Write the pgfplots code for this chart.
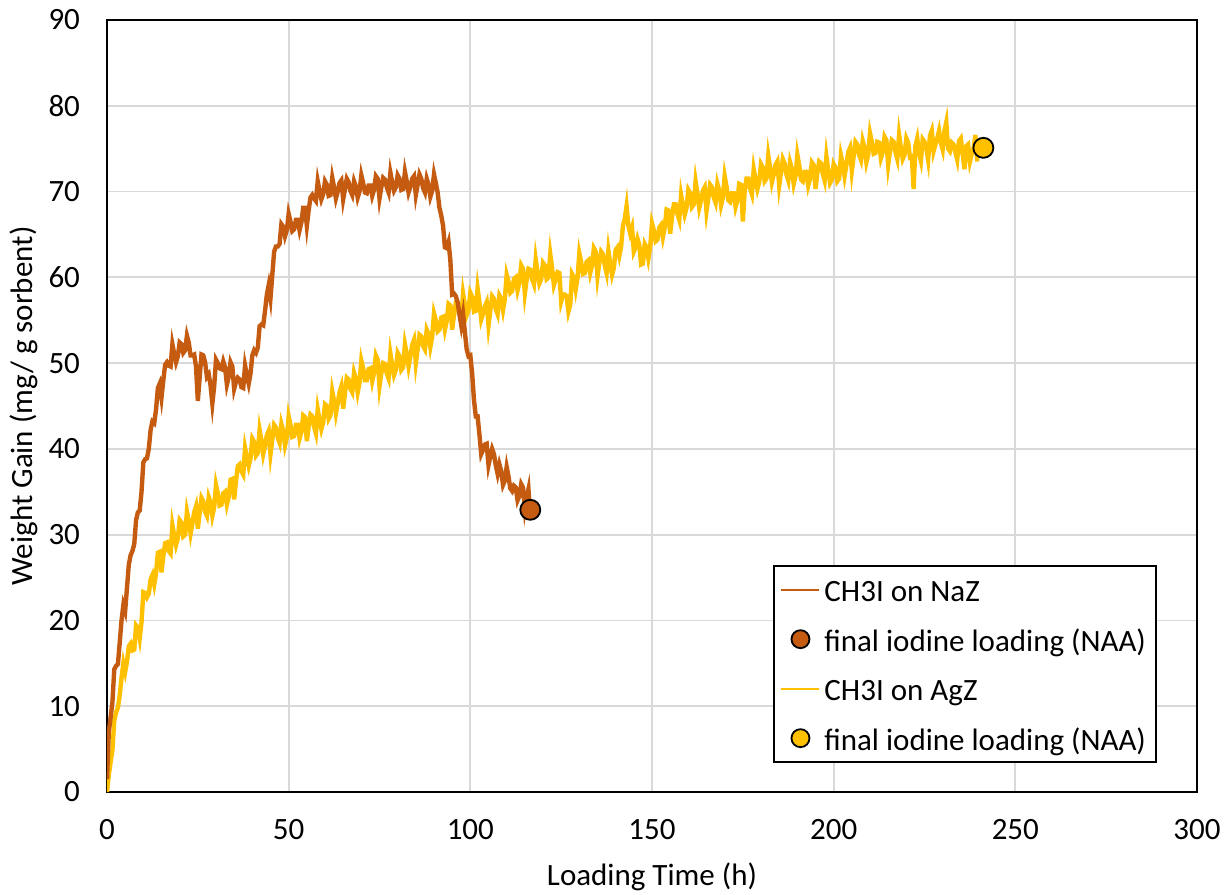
\documentclass[border=0pt]{standalone}
\usepackage{fontspec}
\setmainfont{Carlito}
\usepackage{pgfplots}
\pgfplotsset{compat=1.18}
\definecolor{naz}{HTML}{C55A11}
\definecolor{agz}{HTML}{FFC000}
\definecolor{gridc}{HTML}{D9D9D9}
\pgfplotsset{
  lineleg/.style={legend image code/.code={\draw[##1, line width=1pt] (0pt,0pt) -- (19pt,0pt);}},
  markleg/.style={legend image code/.code={\draw[##1, mark size=4.5pt] plot coordinates {(9.5pt,0pt)};}},
}
\begin{document}
\begin{tikzpicture}
\useasboundingbox (-53.5pt,-51pt) rectangle (559pt,396pt);
\begin{axis}[
  scale only axis, width=545pt, height=386pt,
  xmin=0, xmax=300, ymin=0, ymax=90,
  xtick={0,50,...,300}, ytick={0,10,...,90},
  grid=major, grid style={gridc, line width=0.9pt},
  axis line style={black, line width=1pt},
  major tick length=0pt,
  tick label style={font=\fontsize{15.5}{18}\selectfont},
  /pgf/number format/assume math mode=true,
  yticklabel style={xshift=-10pt},
  xticklabel style={yshift=-10pt},
  xlabel={Loading Time (h)},
  ylabel={Weight Gain (mg/ g sorbent)},
  label style={font=\fontsize{15.5}{18}\selectfont},
  xlabel style={at={([yshift=-46.5pt]axis description cs:0.5,0)}, anchor=base},
  ylabel style={at={([xshift=-37pt]axis description cs:0,0.5)}, anchor=base},
  legend cell align=left,
  legend style={at={(axis description cs:0.9633,0.0376)}, anchor=south east,
    draw=black, line width=1pt, fill=white,
    font=\fontsize{15.5}{18}\selectfont, row sep=5.75pt,
    nodes={text height=13.5pt, text depth=1.5pt, inner sep=2pt},
    inner xsep=3pt, inner ysep=2.4pt},
]
\addplot[agz, line width=2.2pt, forget plot] coordinates {
(0,0)(0.5,2)(1,3.5)(1.5,4.9)(2,8.3)(2.5,9.3)(3,9.8)(3.5,11.3)(4,13.3)(4.5,15.0)(5,14.0)(5.5,15.2)(6,17.0)(6.5,17.3)(7,16.5)(7.5,16.6)(8,19.4)(8.5,19.1)(9,17.9)(9.5,19.8)
(10,23.3)(10.5,23.2)(11,22.7)(11.5,23.1)(12,24.8)(12.5,25.3)(13,24.2)(13.5,25.5)(14,27.9)(14.5,28.0)(15,25.6)(15.5,27.5)(16,29.0)(16.5,29.1)(17,28.1)(17.5,27.8)(18,31.1)(18.5,29.9)(19,28.8)(19.5,29.6)
(20,31.7)(20.5,31.4)(21,29.8)(21.5,30.0)(22,32.7)(22.5,31.6)(23,30.1)(23.5,31.3)(24,32.6)(24.5,33.3)(25,30.7)(25.5,32.5)(26,34.3)(26.5,33.9)(27,32.7)(27.5,32.2)(28,34.4)(28.5,33.8)(29,32.2)(29.5,33.2)
(30,35.8)(30.5,34.8)(31,33.4)(31.5,33.5)(32,34.8)(32.5,35.0)(33,33.5)(33.5,34.4)(34,36.4)(34.5,36.5)(35,34.1)(35.5,36.2)(36,38.0)(36.5,38.2)(37,37.4)(37.5,37.0)(38,40.1)(38.5,39.0)(39,38.0)(39.5,38.9)
(40,41.2)(40.5,40.8)(41,39.2)(41.5,39.5)(42,42.2)(42.5,41.0)(43,39.4)(43.5,40.4)(44,41.6)(44.5,42.1)(45,39.4)(45.5,41.1)(46,42.8)(46.5,42.5)(47,41.3)(47.5,40.7)(48,42.9)(48.5,42.1)(49,40.4)(49.5,41.3)
(50,43.8)(50.5,42.8)(51,41.4)(51.5,41.5)(52,42.8)(52.5,42.8)(53,41.2)(53.5,42.0)(54,43.9)(54.5,43.7)(55,40.9)(55.5,42.6)(56,44.0)(56.5,43.8)(57,42.6)(57.5,41.8)(58,44.6)(58.5,43.4)(59,42.3)(59.5,43.1)
(60,45.2)(60.5,45.0)(61,43.5)(61.5,43.9)(62,46.7)(62.5,45.6)(63,44.1)(63.5,45.3)(64,46.6)(64.5,47.3)(65,44.7)(65.5,46.5)(66,48.3)(66.5,48.1)(67,47.0)(67.5,46.6)(68,48.9)(68.5,48.2)(69,46.6)(69.5,47.7)
(70,50.3)(70.5,49.4)(71,48.0)(71.5,48.0)(72,49.3)(72.5,49.4)(73,47.9)(73.5,48.9)(74,50.9)(74.5,50.4)(75,47.3)(75.5,48.8)(76,50.0)(76.5,49.9)(77,48.8)(77.5,48.2)(78,51.1)(78.5,49.8)(79,48.6)(79.5,49.2)
(80,51.2)(80.5,50.8)(81,49.2)(81.5,49.5)(82,52.2)(82.5,51.1)(83,49.6)(83.5,50.8)(84,52.1)(84.5,52.7)(85,50.0)(85.5,51.6)(86,53.3)(86.5,53.1)(87,52.0)(87.5,51.6)(88,53.9)(88.5,53.4)(89,51.9)(89.5,53.1)
(90,55.8)(90.5,55.0)(91,53.7)(91.5,53.9)(92,55.3)(92.5,55.4)(93,53.9)(93.5,54.9)(94,56.9)(94.5,56.7)(95,53.9)(95.5,55.6)(96,57.0)(96.5,56.9)(97,55.8)(97.5,55.2)(98,58.1)(98.5,56.8)(99,55.6)(99.5,56.2)
(100,58.2)(100.5,57.7)(101,56.0)(101.5,56.1)(102,58.7)(102.5,57.1)(103,55.1)(103.5,55.8)(104,56.6)(104.5,57.1)(105,54.4)(105.5,56.1)(106,57.8)(106.5,57.5)(107,56.3)(107.5,55.7)(108,57.9)(108.5,57.5)(109,56.2)(109.5,57.5)
(110,60.3)(110.5,59.5)(111,58.2)(111.5,58.4)(112,59.8)(112.5,60.0)(113,58.5)(113.5,59.4)(114,61.4)(114.5,61.0)(115,58.1)(115.5,59.7)(116,61.0)(116.5,60.9)(117,59.8)(117.5,59.2)(118,62.1)(118.5,60.6)(119,59.3)(119.5,59.8)
(120,61.7)(120.5,61.4)(121,59.8)(121.5,60.0)(122,62.7)(122.5,61.1)(123,59.1)(123.5,59.8)(124,60.6)(124.5,60.5)(125,57.2)(125.5,58.0)(126,58.0)(126.5,57.8)(127,56.0)(127.5,56.8)(128,60.4)(128.5,60.0)(129,58.6)(129.5,59.9)
(130,62.8)(130.5,61.8)(131,60.4)(131.5,60.5)(132,61.8)(132.5,62.0)(133,60.5)(133.5,61.4)(134,63.4)(134.5,63.0)(135,60.1)(135.5,61.7)(136,63.0)(136.5,62.7)(137,61.4)(137.5,60.5)(138,63.1)(138.5,61.6)(139,60.3)(139.5,61.1)
(140,63.2)(140.5,63.5)(141,62.5)(141.5,63.6)(142,66.0)(142.5,66.8)(143,68.3)(143.5,66.0)(144,65.1)(144.5,65.8)(145,63.0)(145.5,63.5)(146,64.5)(146.5,63.8)(147,61.5)(147.5,61.6)(148,63.9)(148.5,63.5)(149,62.2)(149.5,63.5)
(150,66.3)(150.5,65.5)(151,64.2)(151.5,64.4)(152,65.8)(152.5,66.1)(153,64.7)(153.5,65.8)(154,67.9)(154.5,67.8)(155,65.1)(155.5,67.0)(156,68.5)(156.5,68.5)(157,67.4)(157.5,66.7)(158,69.6)(158.5,68.4)(159,67.3)(159.5,68.1)
(160,70.2)(160.5,69.8)(161,68.2)(161.5,68.5)(162,71.2)(162.5,69.8)(163,68.1)(163.5,69.0)(164,70.1)(164.5,70.5)(165,67.7)(165.5,69.2)(166,70.8)(166.5,70.5)(167,69.3)(167.5,68.7)(168,70.9)(168.5,70.1)(169,68.4)(169.5,69.3)
(170,71.8)(170.5,70.6)(171,69.0)(171.5,68.8)(172,69.8)(172.5,69.8)(173,68.2)(173.5,69.0)(174,70.9)(174.5,70.8)(175,66.5)(175.5,70.0)(176,71.5)(176.5,71.5)(177,70.4)(177.5,69.7)(178,72.6)(178.5,71.4)(179,70.3)(179.5,71.1)
(180,73.2)(180.5,72.8)(181,71.2)(181.5,71.5)(182,74.2)(182.5,72.8)(183,71.1)(183.5,72.0)(184,73.1)(184.5,73.5)(185,70.7)(185.5,72.2)(186,73.8)(186.5,73.3)(187,72.0)(187.5,71.3)(188,73.4)(188.5,72.6)(189,70.9)(189.5,71.8)
(190,74.3)(190.5,73.1)(191,71.4)(191.5,71.2)(192,72.3)(192.5,72.3)(193,70.7)(193.5,71.5)(194,73.4)(194.5,73.1)(195,70.3)(195.5,72.1)(196,73.5)(196.5,73.3)(197,72.1)(197.5,71.3)(198,74.1)(198.5,72.5)(199,71.0)(199.5,71.4)
(200,73.2)(200.5,72.8)(201,71.2)(201.5,71.5)(202,74.2)(202.5,73.2)(203,71.8)(203.5,73.1)(204,74.6)(204.5,75.1)(205,72.4)(205.5,74.1)(206,75.8)(206.5,75.5)(207,74.3)(207.5,73.7)(208,75.9)(208.5,75.1)(209,73.4)(209.5,74.3)
(210,76.8)(210.5,75.8)(211,74.4)(211.5,74.5)(212,75.8)(212.5,75.7)(213,73.9)(213.5,74.6)(214,76.4)(214.5,76.0)(215,73.1)(215.5,74.7)(216,76.0)(216.5,75.8)(217,74.6)(217.5,73.8)(218,76.6)(218.5,75.1)(219,73.8)(219.5,74.3)
(220,76.2)(220.5,75.7)(221,74.0)(221.5,74.1)(222,70.3)(222.5,75.3)(223,76.2)(223.5,74.5)(224,73.6)(224.5,76.1)(225,75.8)(225.5,75.1)(226,73.7)(226.5,76.5)(227,77.1)(227.5,74.7)(228,75.5)(228.5,76.2)(229,77.1)(229.5,75.7)
(230,74.9)(230.5,77.1)(231,78.1)(231.5,75.0)(232,74.7)(232.5,75.7)(233,75.5)(233.5,74.6)(234,73.7)(234.5,75.9)(235,76.2)(235.5,74.4)(236,72.6)(236.5,75.3)(237,75.5)(237.5,73.5)(238,74.4)(238.5,75.0)(239,76.6)
(239.5,73.5)
};
\addplot[naz, line width=2.2pt, lineleg] coordinates {
(0,1.5)(0.5,7)(1,8.7)(1.5,10.5)(2,14.3)(2.5,14.7)(3,14.9)(3.5,17.4)(4,20.0)(4.5,21.8)(5,21.1)(5.5,23.8)(6,26.5)(6.5,27.6)(7,28.1)(7.5,28.9)(8,31.7)(8.5,32.6)(9,32.8)(9.5,35.0)
(10,38.4)(10.5,38.8)(11,38.9)(11.5,40.0)(12,42.2)(12.5,43.2)(13,43.0)(13.5,44.6)(14,47.1)(14.5,47.6)(15,46.0)(15.5,48.0)(16,49.8)(16.5,50.1)(17,49.7)(17.5,49.6)(18,52.2)(18.5,51.1)(19,50.1)(19.5,50.8)
(20,52.4)(20.5,52.2)(21,51.2)(21.5,51.5)(22,53.2)(22.5,52.4)(23,50.9)(23.5,50.9)(24,51.0)(24.5,49.6)(25,45.6)(25.5,48.3)(26,51.0)(26.5,50.9)(27,50.1)(27.5,48.4)(28,48.7)(28.5,47.4)(29,45.3)(29.5,47.3)
(30,50.4)(30.5,50.0)(31,49.4)(31.5,49.3)(32,50.2)(32.5,49.5)(33,47.5)(33.5,48.4)(34,50.1)(34.5,49.6)(35,47.0)(35.5,47.8)(36,48.3)(36.5,48.1)(37,47.2)(37.5,47.1)(38,49.7)(38.5,48.6)(39,47.6)(39.5,48.8)
(40,50.9)(40.5,51.5)(41,51.2)(41.5,51.8)(42,54.3)(42.5,54.5)(43,54.4)(43.5,56.1)(44,58.0)(44.5,59.1)(45,57.6)(45.5,60.3)(46,63.0)(46.5,63.6)(47,63.6)(47.5,63.9)(48,66.2)(48.5,65.9)(49,64.8)(49.5,65.5)
(50,67.4)(50.5,66.5)(51,65.4)(51.5,65.6)(52,66.7)(52.5,66.7)(53,65.5)(53.5,66.4)(54,68.1)(54.5,68.1)(55,66.0)(55.5,67.8)(56,69.3)(56.5,69.6)(57,69.2)(57.5,68.9)(58,71.2)(58.5,70.1)(59,69.1)(59.5,69.7)
(60,71.2)(60.5,70.8)(61,69.5)(61.5,69.6)(62,71.6)(62.5,70.5)(63,69.2)(63.5,70.0)(64,71.0)(64.5,71.3)(65,69.1)(65.5,70.3)(66,71.5)(66.5,71.1)(67,70.1)(67.5,69.6)(68,71.2)(68.5,70.6)(69,69.3)(69.5,70.0)
(70,71.9)(70.5,71.0)(71,69.9)(71.5,69.8)(72,70.7)(72.5,70.7)(73,69.5)(73.5,70.2)(74,71.8)(74.5,71.5)(75,69.2)(75.5,70.5)(76,71.6)(76.5,71.4)(77,70.5)(77.5,69.9)(78,72.2)(78.5,71.1)(79,70.1)(79.5,70.5)
(80,71.9)(80.5,71.5)(81,70.2)(81.5,70.3)(82,72.3)(82.5,71.2)(83,69.9)(83.5,70.6)(84,71.5)(84.5,71.8)(85,69.6)(85.5,70.8)(86,72.0)(86.5,71.5)(87,70.4)(87.5,69.9)(88,71.5)(88.5,70.8)(89,69.4)(89.5,70.1)
(90,72.0)(90.5,71.0)(91,69.9)(91.5,68.1)(92,67.2)(92.5,66.0)(93,63.5)(93.5,63.4)(94,64.1)(94.5,62.0)(95,58.0)(95.5,58.1)(96,57.8)(96.5,57.1)(97,55.7)(97.5,54.4)(98,55.7)(98.5,53.6)(99,51.6)(99.5,50.8)
(100,50.9)(100.5,48.8)(101,45.7)(101.5,43.8)(102,43.8)(102.5,41.7)(103,39.4)(103.5,39.9)(104,40.5)(104.5,40.6)(105,38.1)(105.5,39.1)(106,40.0)(106.5,39.4)(107,38.1)(107.5,37.1)(108,38.2)(108.5,37.4)(109,35.8)(109.5,36.3)
(110,37.9)(110.5,36.8)(111,35.4)(111.5,35.1)(112,35.7)(112.5,35.5)(113,34.0)(113.5,34.5)(114,35.9)(114.5,35.5)(115,33.0)(115.5,34.3)(116,35.3)(116.3,33.5)
};
\addlegendentry{CH3I on NaZ}
\addplot[only marks, mark=*, mark size=5pt, draw=black, fill=naz, line width=0.9pt, markleg]
  coordinates {(116.5,32.9)};
\addlegendentry{final iodine loading (NAA)}
\addlegendimage{agz, lineleg}
\addlegendentry{CH3I on AgZ}
\addplot[only marks, mark=*, mark size=5pt, draw=black, fill=agz, line width=0.9pt, markleg]
  coordinates {(241.2,75.1)};
\addlegendentry{final iodine loading (NAA)}
\end{axis}
\end{tikzpicture}
\end{document}
